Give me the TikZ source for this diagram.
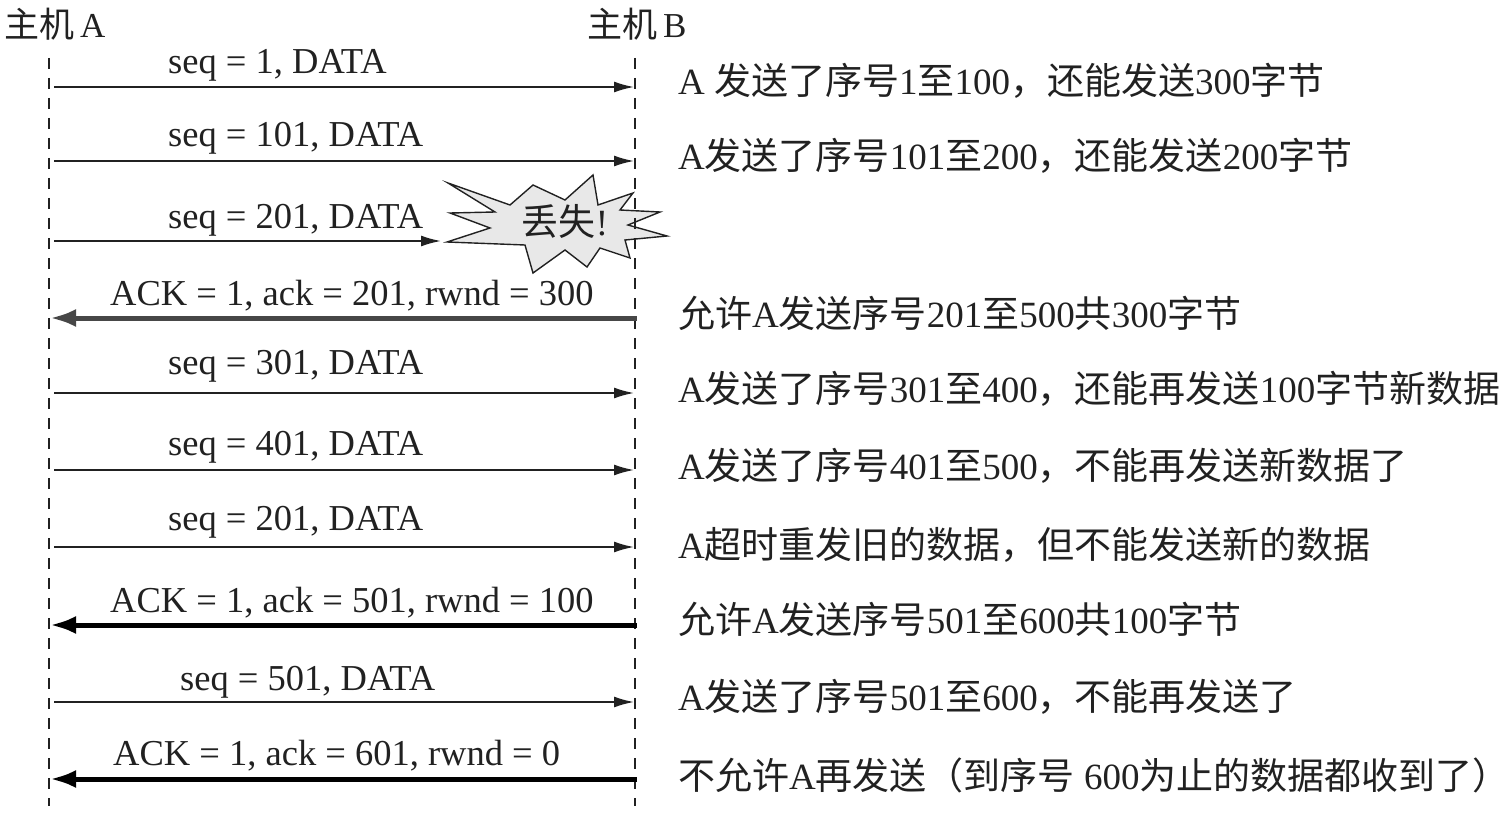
\documentclass[tikz,border=0pt]{standalone}
\usepackage{fontspec}
\setmainfont{Liberation Serif}
\newfontfamily\cjk{Noto Sans CJK SC}
\usetikzlibrary{arrows.meta}
\newcommand{\z}[1]{{\cjk #1}}
\definecolor{ink}{gray}{0.13}
\definecolor{ackgray}{gray}{0.28}
\definecolor{burstfill}{gray}{0.91}
\tikzset{
  lifeline/.style={draw=ink, line width=1.6pt, dash pattern=on 11pt off 9pt},
  msg/.style={draw=ink, line width=1.8pt, -{Latex[length=20pt,width=11pt]}},
  ackmsg/.style={line width=5pt, -{Latex[length=26pt,width=18pt]}},
  lbl/.style={anchor=base west, inner sep=0pt, text=ink, font=\fontsize{36.5pt}{40pt}\selectfont},
  note/.style={anchor=base west, inner sep=0pt, text=ink, font=\fontsize{37pt}{40pt}\selectfont},
  burst/.style={draw=ink, line width=1.4pt, fill=burstfill, line join=miter},
}
\begin{document}
\begin{tikzpicture}[x=1pt,y=-1pt, font=\fontsize{35pt}{40pt}\selectfont]
\useasboundingbox (0,0) rectangle (1512,813);

% loss burst
\draw[burst] (448,183) -- (510,205) -- (533,185) -- (565,200) -- (593,175) -- (598,205)
  -- (633,193) -- (620,210) -- (660,212) -- (628,225) -- (667,236) -- (625,240)
  -- (630,258) -- (600,248) -- (587,267) -- (565,250) -- (533,273) -- (525,245)
  -- (447,242) -- (490,228) -- (450,213) -- (495,212) -- cycle;
\node[inner sep=0pt, text=ink, font=\fontsize{37pt}{40pt}\selectfont] (lost) at (565,221) {\z{丢失}!};

% hosts
\node[lbl, font=\fontsize{35pt}{40pt}\selectfont] (hA) at (4,38) {\z{主机}\,A};
\node[lbl, font=\fontsize{35pt}{40pt}\selectfont] (hB) at (587,38) {\z{主机}\,B};
\coordinate (At) at (49,58);
\coordinate (Ab) at (49,806);
\coordinate (Bt) at (635,58);
\coordinate (Bb) at (635,806);
\draw[lifeline] (At) -- (Ab);
\draw[lifeline] (Bt) -- (Bb);

% message endpoints
\foreach \i/\y in {1/87,2/161,3/241,4/318,5/393,6/470,7/547,8/625,9/702,10/779}{
  \coordinate (a\i) at (54,\y);
  \coordinate (b\i) at (634,\y);
}
\coordinate (c3) at (441,241);
\coordinate (al4) at (50,318);
\coordinate (al8) at (50,625);
\coordinate (al10) at (50,779);
\coordinate (br4) at (637,318);
\coordinate (br8) at (637,625);
\coordinate (br10) at (637,779);

\draw[msg] (a1) -- (b1);
\draw[msg] (a2) -- (b2);
\draw[msg] (a3) -- (c3);
\draw[ackmsg, draw=ackgray] (br4) -- (al4);
\draw[msg] (a5) -- (b5);
\draw[msg] (a6) -- (b6);
\draw[msg] (a7) -- (b7);
\draw[ackmsg, draw=black] (br8) -- (al8);
\draw[msg] (a9) -- (b9);
\draw[ackmsg, draw=black] (br10) -- (al10);

% arrow labels
\node[lbl] (l1) at (168,74) {seq = 1, DATA};
\node[lbl] (l2) at (168,147) {seq = 101, DATA};
\node[lbl] (l3) at (168,229) {seq = 201, DATA};
\node[lbl] (l4) at (110,305) {ACK = 1, ack = 201, rwnd = 300};
\node[lbl] (l5) at (168,374) {seq = 301, DATA};
\node[lbl] (l6) at (168,455) {seq = 401, DATA};
\node[lbl] (l7) at (168,530) {seq = 201, DATA};
\node[lbl] (l8) at (110,612) {ACK = 1, ack = 501, rwnd = 100};
\node[lbl] (l9) at (180,690) {seq = 501, DATA};
\node[lbl] (l10) at (113,765) {ACK = 1, ack = 601, rwnd = 0};

% notes
\node[note] (n1) at (678,95) {A \z{发送了序号}1\z{至}100\z{，还能发送}300\z{字节}};
\node[note] (n2) at (678,170) {A\z{发送了序号}101\z{至}200\z{，还能发送}200\z{字节}};
\node[note] (n4) at (678,327) {\z{允许}A\z{发送序号}201\z{至}500\z{共}300\z{字节}};
\node[note] (n5) at (678,402) {A\z{发送了序号}301\z{至}400\z{，还能再发送}100\z{字节新数据}};
\node[note] (n6) at (678,479) {A\z{发送了序号}401\z{至}500\z{，不能再发送新数据了}};
\node[note] (n7) at (678,558) {A\z{超时重发旧的数据，但不能发送新的数据}};
\node[note] (n8) at (678,633) {\z{允许}A\z{发送序号}501\z{至}600\z{共}100\z{字节}};
\node[note] (n9) at (678,710) {A\z{发送了序号}501\z{至}600\z{，不能再发送了}};
\node[note] (n10) at (678,789) {\z{不允许}A\z{再发送（到序号} 600\z{为止的数据都收到了）}};
\end{tikzpicture}
\end{document}
